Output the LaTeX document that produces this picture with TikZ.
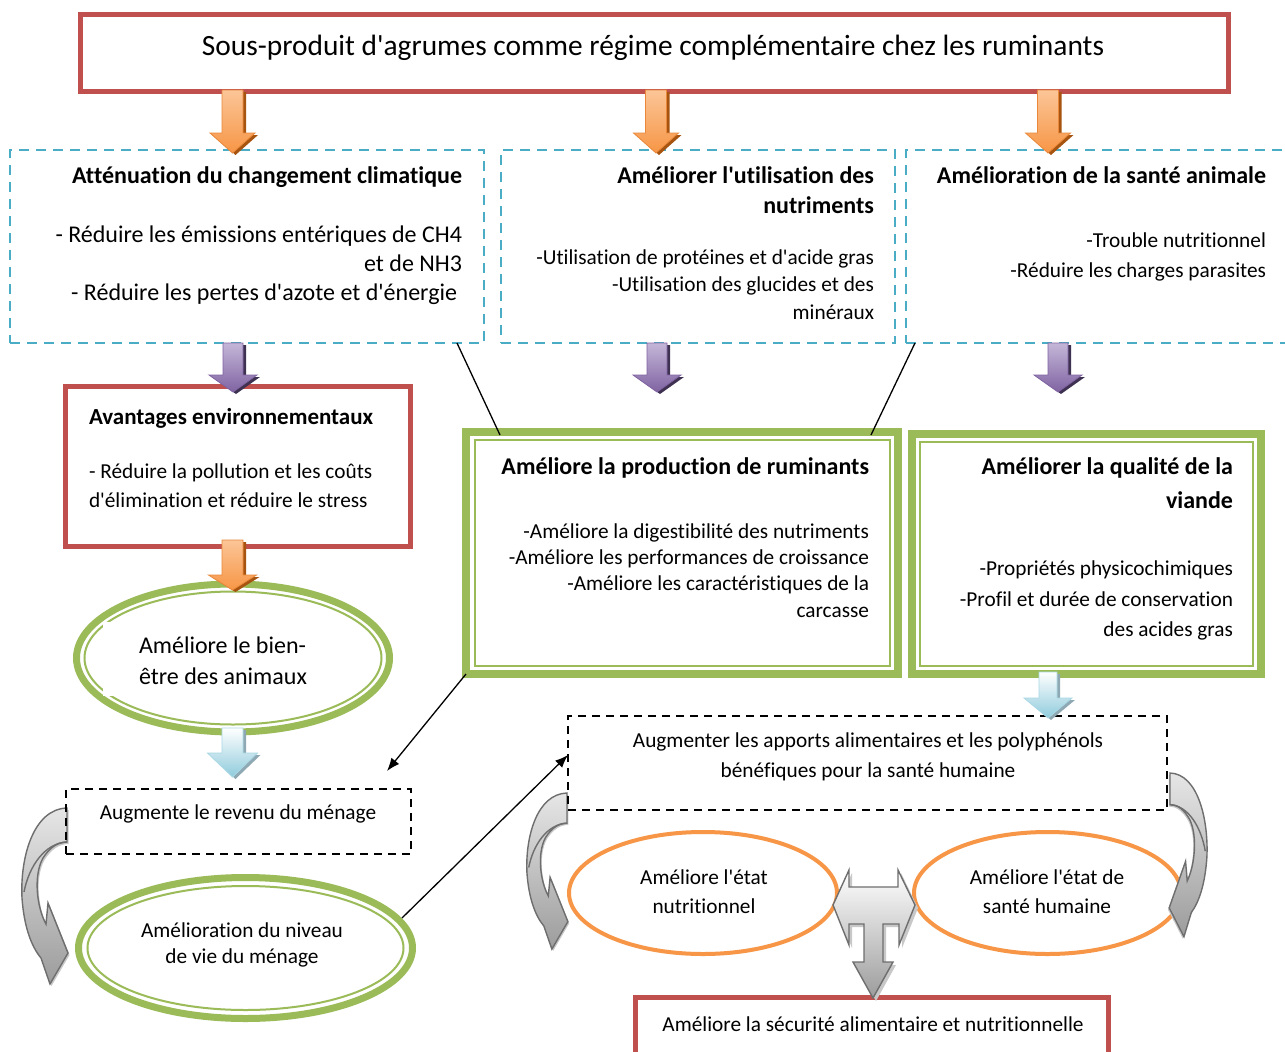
\documentclass[tikz,border=0pt]{standalone}
\usepackage{fontspec}
\setmainfont{Carlito}[Ligatures=NoCommon]
\usetikzlibrary{shapes.geometric,arrows.meta}

\definecolor{framered}{HTML}{C0504D}
\definecolor{frameaqua}{HTML}{4BACC6}
\definecolor{leafgreen}{HTML}{9BBB59}
\definecolor{tangerine}{HTML}{F79646}
\definecolor{orangelight}{HTML}{FBC597}
\definecolor{orangeedge}{HTML}{E9883A}
\definecolor{orangedark}{HTML}{A65410}
\definecolor{plumlight}{HTML}{C4B6D8}
\definecolor{plum}{HTML}{8064A2}
\definecolor{plumdark}{HTML}{3F3151}
\definecolor{sky}{HTML}{8FCBDC}
\definecolor{skyedge}{HTML}{A9D8E4}
\definecolor{skydark}{HTML}{8EA9B3}
\definecolor{steel}{HTML}{6E6E6E}
\definecolor{greylight}{HTML}{E6E6E6}
\definecolor{greydark}{HTML}{9C9C9C}
\definecolor{greyshade}{HTML}{C8C8C8}

\newcommand\ap{\textquotesingle}

% straight block arrow pointing down: x, top, tip, shaft half width, head half width, head length, style prefix
\newcommand\downblock[7]{%
  \fill[#7shadow] (#1-#4+3,#2+2) -- (#1+#4+3,#2+2) -- (#1+#4+3,#3-#6+2) -- (#1+#5+3,#3-#6+2)
     -- (#1+3,#3+2) -- (#1-#5+3,#3-#6+2) -- (#1-#4+3,#3-#6+2) -- cycle;
  \draw[#7body] (#1-#4,#2) -- (#1+#4,#2) -- (#1+#4,#3-#6) -- (#1+#5,#3-#6)
     -- (#1,#3) -- (#1-#5,#3-#6) -- (#1-#4,#3-#6) -- cycle;}

% curved band arrow, bulging to the left, head at the bottom
\def\bendoutline{(0,0) .. controls (-34,1) and (-47,50) .. (-45,90)
  .. controls (-43,118) and (-36,138) .. (-26,150) -- (-17,176) -- (1,145) -- (-19,95) -- (-21,116)
  .. controls (-30,100) and (-34,68) .. (-24,50) .. controls (-17,39) and (-9,34) .. (0,34) -- cycle}
\def\bendfold{(0,34) .. controls (-22,35) and (-38,58) .. (-43,84)}
\newcommand\bendarrow[3]{%
  \begin{scope}[shift={#1}, xscale=#2, yscale=#3]
    \fill[greyshade, shift={(1.5,2)}] \bendoutline;
    \draw[bendbody] \bendoutline;
    \draw[steel, line width=1.4pt] \bendfold;
  \end{scope}}

\tikzset{
  every node/.style={inner sep=0pt, outer sep=0pt},
  body/.style={font=\fontsize{21.3}{26}\selectfont},
  bigbody/.style={font=\fontsize{24}{29}\selectfont},
  head/.style={font=\bfseries\fontsize{24}{29}\selectfont},
  headsmall/.style={font=\bfseries\fontsize{23}{28}\selectfont},
  titletext/.style={font=\fontsize{29.4}{35}\selectfont},
  redframe/.style={rectangle, draw=framered, line width=5pt},
  aquaframe/.style={rectangle, draw=frameaqua, line width=2.5pt, dash pattern=on 10pt off 7pt},
  blackframe/.style={rectangle, draw=black, line width=2pt, dash pattern=on 8pt off 6pt},
  greenouter/.style={rectangle, draw=leafgreen, line width=8pt},
  greeninner/.style={rectangle, draw=leafgreen, line width=2pt},
  greenring/.style={ellipse, draw=leafgreen, line width=7pt},
  greenringin/.style={ellipse, draw=leafgreen, line width=2pt},
  orangering/.style={ellipse, draw=tangerine, line width=4pt},
  whitepad/.style={rectangle, fill=white},
  orangebody/.style={top color=orangelight, bottom color=tangerine, draw=orangeedge, line width=0.8pt},
  orangeshadow/.style={fill=orangedark},
  plumbody/.style={top color=plumlight, bottom color=plum, draw=plum, line width=0.8pt},
  plumshadow/.style={fill=plumdark},
  skybody/.style={top color=white, bottom color=sky, draw=skyedge, line width=0.8pt},
  skyshadow/.style={fill=skydark},
  bendbody/.style={top color=greylight, bottom color=greydark, draw=steel, line width=1.4pt},
  teebody/.style={top color=white, bottom color=greydark, draw=steel, line width=1.4pt},
  link/.style={draw=black, line width=1.3pt},
  linkarrow/.style={link, -{Latex[length=13pt, width=10pt]}},
}

\begin{document}
\begin{tikzpicture}[x=1pt,y=-1pt]
\useasboundingbox (0,0) rectangle (1285,1052);
\fill[white] (0,0) rectangle (1285,1052);

% ---- frames ----
\node[redframe, minimum width=1148pt, minimum height=77pt] (title) at (654.5,53) {};
\node[aquaframe, minimum width=474pt, minimum height=193pt] (clim) at (247,246.5) {};
\node[aquaframe, minimum width=394pt, minimum height=193pt] (nutr) at (698,246.5) {};
\node[aquaframe, minimum width=389pt, minimum height=193pt] (sante) at (1100.5,246.5) {};
\node[redframe, minimum width=345pt, minimum height=160pt] (envi) at (238,466.5) {};

\node[greenouter, minimum width=432pt, minimum height=242pt] (prod) at (682,553) {};
\node[greeninner, minimum width=415pt, minimum height=226pt] (prod-in) at (682,553) {};
\node[greenouter, minimum width=349pt, minimum height=240pt] (viande) at (1086.5,554) {};
\node[greeninner, minimum width=333pt, minimum height=224pt] (viande-in) at (1086.5,554) {};

\node[greenring, minimum width=313pt, minimum height=148pt] (bien) at (233,658) {};
\node[greenringin, minimum width=297pt, minimum height=133pt] (bien-in) at (233,658) {};
\node[whitepad, minimum width=237pt, minimum height=74pt, anchor=north west] (bien-pad) at (103,622) {};

\node[greenring, minimum width=334pt, minimum height=141pt] (niveau) at (245.5,948) {};
\node[greenringin, minimum width=316pt, minimum height=124pt] (niveau-in) at (245.5,948) {};

\node[orangering, minimum width=268pt, minimum height=122pt] (etat) at (703,893) {};
\node[orangering, minimum width=267pt, minimum height=122pt] (hum) at (1047.5,893) {};

\node[redframe, minimum width=473pt, minimum height=70pt] (secu) at (872,1032.5) {};

% ---- curved grey arrows ----
\bendarrow{(67,808)}{1}{1}
\bendarrow{(567,793)}{0.89}{0.887}
\bendarrow{(1170,773)}{-0.82}{0.93}

\node[blackframe, minimum width=345pt, minimum height=65pt] (revenu) at (238.5,821.5) {};
\node[blackframe, minimum width=599pt, minimum height=94pt] (apports) at (867.5,763) {};

% ---- T-shaped arrow between the two orange rings ----
\fill[greyshade] (836,908) -- (852,873) -- (852,890) -- (901,890) -- (901,873) -- (918,908) -- (902,948)
  -- (902,927) -- (886,927) -- (886,965) -- (896,965) -- (876,1001) -- (856,965) -- (867,965)
  -- (867,927) -- (852,927) -- (852,948) -- cycle;
\draw[teebody] (833,905) -- (849,870) -- (849,887) -- (898,887) -- (898,870) -- (915,905) -- (899,945)
  -- (899,924) -- (883,924) -- (883,962) -- (893,962) -- (873,998) -- (853,962) -- (864,962)
  -- (864,924) -- (849,924) -- (849,945) -- cycle;

% ---- block arrows ----
\downblock{232.5}{90}{153}{10.5}{22.5}{20}{orange}
\downblock{656}{90}{153}{10.5}{22.5}{20}{orange}
\downblock{1048}{90}{153}{10.5}{22.5}{20}{orange}
\downblock{233}{343}{392}{10}{24}{17}{plum}
\downblock{657}{343}{392}{10}{24}{17}{plum}
\downblock{1058}{343}{392}{10}{24}{17}{plum}
\downblock{232.5}{540}{590}{10.5}{24}{15}{orange}
\downblock{232.5}{728}{777}{10.5}{25}{24}{sky}
\downblock{1048}{672}{718}{9}{24}{20}{sky}

% ---- connectors ----
\coordinate (clim-foot) at (457,343);
\coordinate (prod-head1) at (500,435);
\coordinate (sante-foot) at (915,343);
\coordinate (prod-head2) at (871,435);
\coordinate (revenu-tip) at (387,771);
\coordinate (niveau-exit) at (402,918);
\coordinate (apports-entry) at (568,755);
\draw[link] (clim-foot) -- (prod-head1);
\draw[link] (sante-foot) -- (prod-head2);
\draw[linkarrow] (prod.south west) -- (revenu-tip);
\draw[linkarrow] (niveau-exit) -- (apports-entry);

% ---- texts ----
\node[titletext, anchor=base] (title-t) at (653,55) {Sous-produit d\ap agrumes comme régime complémentaire chez les ruminants};

\node[head, anchor=base east] (clim-t) at (462,183) {Atténuation du changement climatique};
\node[bigbody, anchor=base east] (clim-1) at (462,242) {- Réduire les émissions entériques de CH4};
\node[bigbody, anchor=base east] (clim-2) at (462,271) {et de NH3};
\node[bigbody, anchor=base east] (clim-3) at (457,300) {- Réduire les pertes d\ap azote et d\ap énergie};

\node[head, anchor=base east] (nutr-t1) at (874,183) {Améliorer l\ap utilisation des};
\node[head, anchor=base east] (nutr-t2) at (874,213) {nutriments};
\node[body, anchor=base east] (nutr-1) at (874,264.5) {-Utilisation de protéines et d\ap acide gras};
\node[body, anchor=base east] (nutr-2) at (874,291.5) {-Utilisation des glucides et des};
\node[body, anchor=base east] (nutr-3) at (874,319.5) {minéraux};

\node[head, anchor=base east] (sante-t) at (1266,183) {Amélioration de la santé animale};
\node[body, anchor=base east] (sante-1) at (1266,247.5) {-Trouble nutritionnel};
\node[body, anchor=base east] (sante-2) at (1266,277.5) {-Réduire les charges parasites};

\node[headsmall, anchor=base west] (envi-t) at (89,424) {Avantages environnementaux};
\node[body, anchor=base west] (envi-1) at (89,478.5) {- Réduire la pollution et les coûts};
\node[body, anchor=base west] (envi-2) at (89,507.5) {d\ap élimination et réduire le stress};

\node[bigbody, anchor=base west] (bien-1) at (139,653) {Améliore le bien-};
\node[bigbody, anchor=base west] (bien-2) at (139,684) {être des animaux};

\node[body, anchor=base] (revenu-t) at (238,819.5) {Augmente le revenu du ménage};

\node[body, anchor=base] (niveau-1) at (242,937.5) {Amélioration du niveau};
\node[body, anchor=base] (niveau-2) at (242,963.5) {de vie du ménage};

\node[head, anchor=base east] (prod-t) at (869,474) {Améliore la production de ruminants};
\node[body, anchor=base east] (prod-1) at (869,538.5) {-Améliore la digestibilité des nutriments};
\node[body, anchor=base east] (prod-2) at (869,564.5) {-Améliore les performances de croissance};
\node[body, anchor=base east] (prod-3) at (869,590.5) {-Améliore les caractéristiques de la};
\node[body, anchor=base east] (prod-4) at (869,617.5) {carcasse};

\node[head, anchor=base east] (viande-t1) at (1233,474) {Améliorer la qualité de la};
\node[head, anchor=base east] (viande-t2) at (1233,508) {viande};
\node[body, anchor=base east] (viande-1) at (1233,575.5) {-Propriétés physicochimiques};
\node[body, anchor=base east] (viande-2) at (1233,606.5) {-Profil et durée de conservation};
\node[body, anchor=base east] (viande-3) at (1233,636.5) {des acides gras};

\node[body, anchor=base] (apports-1) at (868,747.5) {Augmenter les apports alimentaires et les polyphénols};
\node[body, anchor=base] (apports-2) at (868,777.5) {bénéfiques pour la santé humaine};

\node[body, anchor=base] (etat-1) at (704,884.5) {Améliore l\ap état};
\node[body, anchor=base] (etat-2) at (704,913.5) {nutritionnel};
\node[body, anchor=base] (hum-1) at (1047,884.5) {Améliore l\ap état de};
\node[body, anchor=base] (hum-2) at (1047,913.5) {santé humaine};

\node[body, anchor=base] (secu-t) at (873,1031.5) {Améliore la sécurité alimentaire et nutritionnelle};
\end{tikzpicture}
\end{document}
